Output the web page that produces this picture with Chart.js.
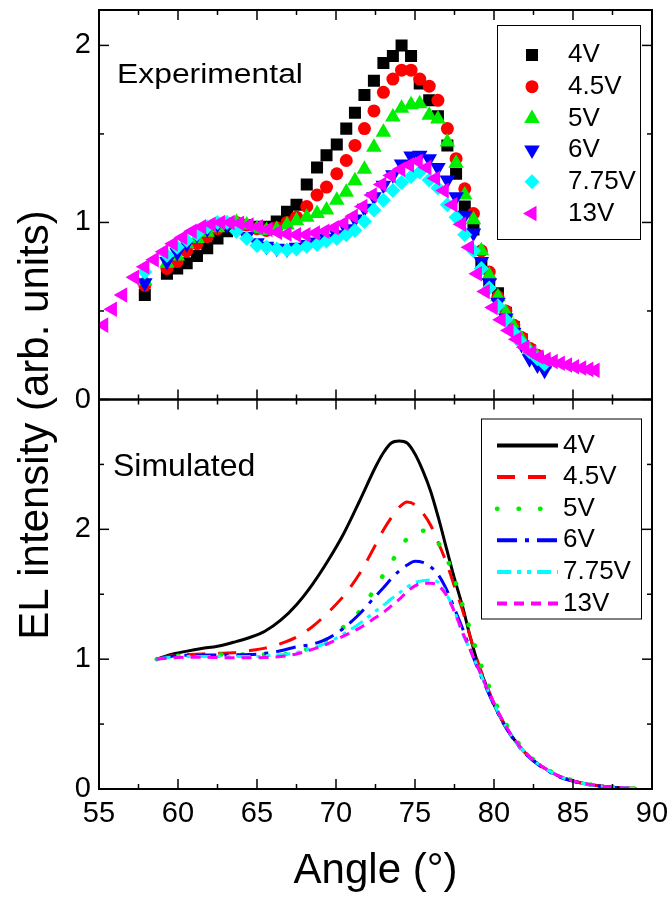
<!DOCTYPE html>
<html lang="en">
<head>
<meta charset="UTF-8" />
<title>EL intensity vs angle</title>
<script src="https://cdn.jsdelivr.net/npm/chart.js"></script>
<style>
  html, body { margin: 0; padding: 0; background: #fff; }
  #wrap { width: 669px; height: 898px; }
</style>
</head>
<body>
<div id="wrap"><canvas id="elChart" width="669" height="898"></canvas></div>
<script>
// ---- data -------------------------------------------------------------
const voltages = ["4V", "4.5V", "5V", "6V", "7.75V", "13V"];
const colors = ["#000000", "#ff0000", "#00ee00", "#0000ff", "#00ffff", "#ff00ff"];

const angleTicks = [55, 60, 65, 70, 75, 80, 85, 90];
const expTicks = [0, 1, 2];
const simTicks = [0, 1, 2];

// measured angles shared by the 4V ... 7.75V runs
const expAngles = [57.9, 59.3, 59.95, 60.55, 61.2, 61.85, 62.5, 63.1, 63.7, 64.35, 65.0, 65.6, 66.25,
  66.9, 67.5, 68.15, 68.8, 69.4, 70.05, 70.65, 71.2, 71.8, 72.4, 73.0, 73.6, 74.15, 74.75, 75.3,
  75.9, 76.45, 77.05, 77.6, 78.15, 78.7, 79.2, 79.7, 80.25, 80.75, 81.25, 81.75, 82.25, 82.75, 83.2];

const exp4V = [0.59, 0.71, 0.74, 0.77, 0.81, 0.855, 0.91, 0.95, 0.985, 0.985, 0.975, 0.975, 1.005,
  1.06, 1.10, 1.215, 1.31, 1.38, 1.44, 1.53, 1.62, 1.72, 1.80, 1.90, 1.94, 2.00, 1.94, 1.785,
  1.69, 1.60, 1.435, 1.275, 1.09, 0.96, 0.77, 0.66, 0.60, 0.49, 0.41, 0.34, 0.28, 0.24, 0.21];
const exp4_5V = [0.645, 0.74, 0.78, 0.84, 0.88, 0.92, 0.965, 0.995, 1.0, 0.985, 0.965, 0.955, 0.97,
  1.0, 1.03, 1.09, 1.155, 1.20, 1.275, 1.35, 1.435, 1.53, 1.63, 1.735, 1.81, 1.86, 1.86, 1.81,
  1.77, 1.69, 1.53, 1.36, 1.19, 1.05, 0.84, 0.72, 0.58, 0.50, 0.42, 0.35, 0.29, 0.25, 0.21];
const exp5V = [0.67, 0.77, 0.81, 0.88, 0.91, 0.945, 0.97, 0.99, 1.0, 0.985, 0.965, 0.955, 0.96,
  0.985, 1.01, 1.03, 1.05, 1.07, 1.125, 1.17, 1.235, 1.30, 1.425, 1.51, 1.595, 1.645, 1.665, 1.67,
  1.605, 1.585, 1.455, 1.335, 1.155, 1.015, 0.84, 0.70, 0.58, 0.49, 0.41, 0.34, 0.28, 0.24, 0.20];
const exp6V = [0.66, 0.78, 0.83, 0.88, 0.93, 0.965, 0.99, 0.99, 0.96, 0.92, 0.885, 0.865, 0.855,
  0.85, 0.86, 0.875, 0.89, 0.91, 0.93, 0.965, 1.02, 1.08, 1.145, 1.21, 1.27, 1.33, 1.375, 1.38,
  1.36, 1.31, 1.24, 1.145, 1.04, 0.94, 0.78, 0.66, 0.55, 0.46, 0.38, 0.31, 0.23, 0.195, 0.165];
const exp7_75V = [0.72, 0.815, 0.86, 0.90, 0.935, 0.975, 1.0, 1.0, 0.95, 0.91, 0.87, 0.86, 0.85,
  0.845, 0.85, 0.865, 0.875, 0.895, 0.91, 0.93, 0.955, 1.005, 1.07, 1.125, 1.18, 1.225, 1.26, 1.285,
  1.24, 1.195, 1.10, 1.03, 0.93, 0.84, 0.74, 0.63, 0.53, 0.45, 0.38, 0.32, 0.27, 0.23, 0.20];

const exp13VAngles = [55.3, 55.85, 56.5, 57.25, 57.9, 58.5, 59.1, 59.7, 60.3, 60.9, 61.5, 62.1, 62.7,
  63.3, 63.9, 64.5, 65.1, 65.7, 66.3, 66.9, 67.5, 68.1, 68.7, 69.3, 69.9, 70.5, 71.1, 71.7, 72.3,
  72.9, 73.5, 74.1, 74.65, 75.2, 75.75, 76.3, 76.85, 77.4, 77.95, 78.45, 78.95, 79.45, 79.95, 80.45,
  80.95, 81.45, 81.95, 82.4, 82.85, 83.3, 83.75, 84.2, 84.65, 85.1, 85.55, 86.0, 86.4];
const exp13V = [0.42, 0.51, 0.59, 0.69, 0.75, 0.79, 0.835, 0.88, 0.915, 0.95, 0.975, 0.99, 1.0,
  1.0, 0.995, 0.985, 0.975, 0.96, 0.945, 0.935, 0.93, 0.93, 0.94, 0.95, 0.97, 0.995, 1.035, 1.09,
  1.155, 1.215, 1.265, 1.30, 1.325, 1.345, 1.31, 1.25, 1.18, 1.10, 0.99, 0.86, 0.71, 0.61, 0.52,
  0.45, 0.39, 0.34, 0.295, 0.265, 0.24, 0.225, 0.215, 0.205, 0.195, 0.185, 0.178, 0.17, 0.165];

// simulated curves, all on one angle grid
const simAngles = [58.65, 59.5, 60.5, 61.5, 62.5, 63.5, 64.5, 65.5, 66.5, 67.5, 68.5, 69.5, 70.5,
  71.5, 72.5, 73.0, 73.5, 74.0, 74.5, 75.0, 75.5, 76.0, 76.5, 77.0, 77.5, 78.0, 78.5, 79.0, 79.5,
  80.0, 80.5, 81.0, 81.5, 82.0, 82.5, 83.0, 84.0, 85.0, 86.0, 87.0, 88.0, 89.0];

const sim4V = [1.0, 1.035, 1.06, 1.082, 1.10, 1.13, 1.165, 1.215, 1.30, 1.42, 1.575, 1.76, 1.97,
  2.22, 2.48, 2.59, 2.665, 2.68, 2.665, 2.58, 2.45, 2.29, 2.08, 1.85, 1.62, 1.41, 1.17, 0.96, 0.80,
  0.65, 0.53, 0.43, 0.345, 0.275, 0.22, 0.175, 0.105, 0.062, 0.035, 0.02, 0.01, 0.003];
const sim4_5V = [1.0, 1.025, 1.035, 1.04, 1.045, 1.05, 1.065, 1.085, 1.12, 1.17, 1.25, 1.36, 1.49,
  1.66, 1.88, 1.995, 2.09, 2.17, 2.21, 2.19, 2.125, 2.03, 1.89, 1.74, 1.56, 1.38, 1.17, 0.97, 0.81,
  0.66, 0.535, 0.43, 0.345, 0.275, 0.22, 0.175, 0.105, 0.062, 0.035, 0.02, 0.01, 0.003];
const sim5V = [1.0, 1.02, 1.03, 1.032, 1.035, 1.035, 1.035, 1.035, 1.035, 1.06, 1.09, 1.16, 1.25,
  1.37, 1.55, 1.65, 1.745, 1.84, 1.93, 1.985, 1.99, 1.96, 1.89, 1.78, 1.62, 1.42, 1.22, 1.02, 0.85,
  0.69, 0.56, 0.45, 0.36, 0.285, 0.225, 0.18, 0.11, 0.065, 0.037, 0.02, 0.01, 0.003];
const sim6V = [1.0, 1.02, 1.03, 1.032, 1.032, 1.033, 1.035, 1.045, 1.065, 1.095, 1.115, 1.16, 1.24,
  1.35, 1.485, 1.55, 1.62, 1.68, 1.725, 1.755, 1.745, 1.71, 1.645, 1.535, 1.39, 1.24, 1.075, 0.92,
  0.78, 0.645, 0.525, 0.425, 0.34, 0.27, 0.215, 0.17, 0.10, 0.06, 0.033, 0.018, 0.008, 0.002];
const sim7_75V = [1.0, 1.015, 1.02, 1.02, 1.02, 1.02, 1.02, 1.025, 1.035, 1.05, 1.085, 1.13, 1.195,
  1.275, 1.37, 1.415, 1.465, 1.51, 1.555, 1.59, 1.605, 1.61, 1.59, 1.50, 1.37, 1.20, 1.07, 0.93,
  0.79, 0.655, 0.535, 0.43, 0.345, 0.275, 0.22, 0.175, 0.105, 0.062, 0.035, 0.02, 0.01, 0.003];
const sim13V = [1.0, 1.01, 1.015, 1.015, 1.012, 1.01, 1.01, 1.012, 1.02, 1.04, 1.075, 1.12, 1.18,
  1.24, 1.32, 1.36, 1.41, 1.46, 1.52, 1.565, 1.585, 1.585, 1.565, 1.49, 1.365, 1.21, 1.07, 0.93,
  0.79, 0.66, 0.54, 0.435, 0.35, 0.28, 0.222, 0.177, 0.107, 0.063, 0.036, 0.02, 0.01, 0.003];

// ---- styling ----------------------------------------------------------
const FONT = '"Liberation Sans", Arial, Helvetica, sans-serif';
const markers = [
  { style: "rect", rot: 0, r: 8.5 },
  { style: "circle", rot: 0, r: 6.5 },
  { style: "triangle", rot: 0, r: 9 },
  { style: "triangle", rot: 180, r: 9 },
  { style: "rectRot", rot: 0, r: 7.5 },
  { style: "triangle", rot: 270, r: 9 }
];
const dashes = [[], [18, 13], [0.5, 21], [20, 8, 4, 8], [14, 6, 4, 6, 4, 6], [10, 7]];
const widths = [3, 3, 4.5, 3, 3, 3];
const caps = ["butt", "butt", "round", "butt", "butt", "butt"];

const pts = (xs, ys) => xs.map((x, i) => ({ x: x, y: ys[i] }));

const expSeries = [
  pts(expAngles, exp4V), pts(expAngles, exp4_5V), pts(expAngles, exp5V),
  pts(expAngles, exp6V), pts(expAngles, exp7_75V), pts(exp13VAngles, exp13V)
];
const simSeries = [
  pts(simAngles, sim4V), pts(simAngles, sim4_5V), pts(simAngles, sim5V),
  pts(simAngles, sim6V), pts(simAngles, sim7_75V), pts(simAngles, sim13V)
];

const datasets = [];
expSeries.forEach((data, i) => {
  datasets.push({
    label: voltages[i], panel: "exp", yAxisID: "yTop", data: data,
    order: 20 - i,
    pointStyle: markers[i].style, pointRotation: markers[i].rot, pointRadius: markers[i].r,
    pointBackgroundColor: colors[i], pointBorderWidth: 0, showLine: false
  });
});
simSeries.forEach((data, i) => {
  datasets.push({
    label: voltages[i], panel: "sim", yAxisID: "yBot", data: data,
    order: 10 - i,
    showLine: true, pointRadius: 0, borderColor: colors[i], borderWidth: widths[i],
    borderDash: dashes[i], borderCapStyle: caps[i],
    cubicInterpolationMode: "monotone", fill: false
  });
});

// ---- frame, inward ticks, titles and legends --------------------------
function seg(ctx, x1, y1, x2, y2) {
  ctx.beginPath(); ctx.moveTo(x1, y1); ctx.lineTo(x2, y2); ctx.stroke();
}

const decor = {
  id: "decor",
  afterDatasetsDraw(chart) {
    const { ctx, chartArea: a, scales } = chart;
    const xs = scales.x;
    ctx.save();
    ctx.strokeStyle = "#000";

    [["yTop", expTicks], ["yBot", simTicks]].forEach(([id, major]) => {
      const ys = scales[id];
      ctx.lineWidth = 1.5;
      for (let v = angleTicks[0]; v <= angleTicks[angleTicks.length - 1]; v += 2.5) {
        const px = xs.getPixelForValue(v);
        const len = angleTicks.includes(v) ? 10 : 5;
        seg(ctx, px, ys.top, px, ys.top + len);
        seg(ctx, px, ys.bottom, px, ys.bottom - len);
      }
      for (let v = 0; v < ys.max; v += 0.5) {
        const py = ys.getPixelForValue(v);
        const len = major.includes(v) ? 10 : 5;
        seg(ctx, a.left, py, a.left + len, py);
        seg(ctx, a.right, py, a.right - len, py);
      }
      ctx.lineWidth = 2;
      ctx.strokeRect(a.left, ys.top, a.right - a.left, ys.bottom - ys.top);
    });

    // axis titles
    ctx.fillStyle = "#000";
    ctx.font = "42px " + FONT;
    ctx.textAlign = "center";
    ctx.textBaseline = "alphabetic";
    ctx.fillText("Angle (\u00b0)", (a.left + a.right) / 2, 883);
    ctx.save();
    ctx.translate(48, 425);
    ctx.rotate(-Math.PI / 2);
    ctx.fillText("EL intensity (arb. units)", 0, 0);
    ctx.restore();

    // panel labels
    ctx.textAlign = "left";
    ctx.save();
    ctx.translate(a.left + 18, scales.yTop.top + 73);
    ctx.scale(1.18, 1);
    ctx.font = "27px " + FONT;
    ctx.fillText("Experimental", 0, 0);
    ctx.restore();
    ctx.font = "32px " + FONT;
    ctx.fillText("Simulated", a.left + 14, scales.yBot.top + 76);

    // legend boxes
    ctx.font = "26px " + FONT;
    ctx.textBaseline = "middle";
    const expSets = chart.data.datasets.filter(d => d.panel === "exp");
    const simSets = chart.data.datasets.filter(d => d.panel === "sim");

    let bx = a.right - 155, by = scales.yTop.top + 15;
    ctx.lineWidth = 1;
    ctx.fillStyle = "#fff";
    ctx.fillRect(bx, by, 143, 214);
    ctx.strokeRect(bx + 0.5, by + 0.5, 143, 214);
    expSets.forEach((d, i) => {
      const cy = by + 30 + i * 31.7;
      ctx.fillStyle = d.pointBackgroundColor;
      Chart.helpers.drawPoint(ctx, {
        pointStyle: d.pointStyle, rotation: d.pointRotation, radius: d.pointRadius, borderWidth: 0
      }, bx + 35, cy);
      ctx.fillStyle = "#000";
      ctx.fillText(d.label, bx + 71, cy);
    });

    bx = a.right - 171; by = scales.yBot.top + 19;
    ctx.fillStyle = "#fff";
    ctx.fillRect(bx, by, 160, 200);
    ctx.strokeStyle = "#000";
    ctx.lineWidth = 1;
    ctx.strokeRect(bx + 0.5, by + 0.5, 160, 200);
    simSets.forEach((d, i) => {
      const cy = by + 27 + i * 31.6;
      ctx.save();
      ctx.strokeStyle = d.borderColor;
      ctx.lineWidth = Math.max(4, d.borderWidth);
      ctx.lineCap = d.borderCapStyle;
      ctx.setLineDash(d.borderDash);
      seg(ctx, bx + 16, cy, bx + 77, cy);
      ctx.restore();
      ctx.fillStyle = "#000";
      ctx.fillText(d.label, bx + 82, cy);
    });
    ctx.restore();
  }
};

// ---- chart ------------------------------------------------------------
const tickFont = { family: FONT, size: 29 };

// fixed axis boxes, no extra room reserved for overhanging tick labels
function fixBox(size, horizontal) {
  return s => {
    if (horizontal) s.height = size; else s.width = size;
    s.paddingLeft = 0; s.paddingRight = 0; s.paddingTop = 0; s.paddingBottom = 0;
  };
}

new Chart(document.getElementById("elChart"), {
  type: "scatter",
  data: { datasets: datasets },
  options: {
    responsive: false,
    animation: false,
    events: [],
    layout: { padding: { left: 0, right: 17, top: 10, bottom: 0 } },
    plugins: { legend: { display: false }, tooltip: { enabled: false } },
    scales: {
      x: {
        type: "linear", position: "bottom", min: 55, max: 90,
        afterBuildTicks: s => { s.ticks = angleTicks.map(v => ({ value: v })); },
        afterFit: fixBox(109, true),
        ticks: { font: tickFont, color: "#000", padding: 8, autoSkip: false, maxRotation: 0 },
        grid: { display: false, drawTicks: false },
        border: { display: false }
      },
      yBot: {
        type: "linear", position: "left", stack: "panels", stackWeight: 1, min: 0, max: 3,
        afterBuildTicks: s => { s.ticks = simTicks.map(v => ({ value: v })); },
        afterFit: fixBox(99, false),
        ticks: { font: tickFont, color: "#000", padding: 8 },
        grid: { display: false, drawTicks: false },
        border: { display: false }
      },
      yTop: {
        type: "linear", position: "left", stack: "panels", stackWeight: 1, min: 0, max: 2.2,
        afterBuildTicks: s => { s.ticks = expTicks.map(v => ({ value: v })); },
        afterFit: fixBox(99, false),
        ticks: { font: tickFont, color: "#000", padding: 8 },
        grid: { display: false, drawTicks: false },
        border: { display: false }
      }
    }
  },
  plugins: [decor]
});
</script>
</body>
</html>
